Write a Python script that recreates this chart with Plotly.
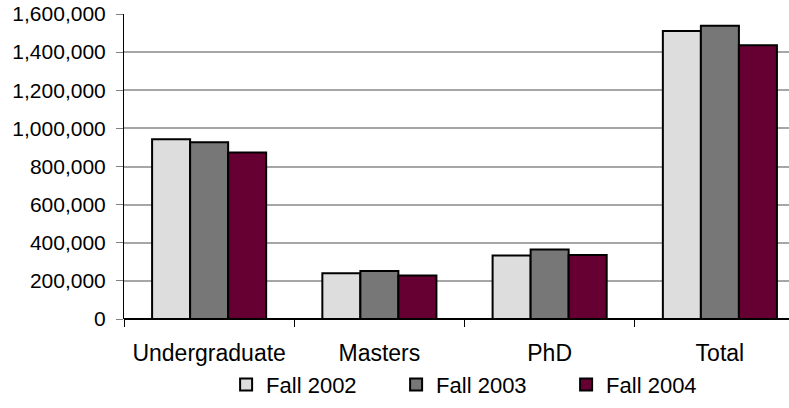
import plotly.graph_objects as go

categories = ['Undergraduate', 'Masters', 'PhD', 'Total']
fall_2002 = [943000, 240000, 333000, 1511000]
fall_2003 = [927000, 252000, 364000, 1539000]
fall_2004 = [873000, 228000, 336000, 1436000]

series = [
    ('Fall 2002', fall_2002, '#DDDDDD'),
    ('Fall 2003', fall_2003, '#777777'),
    ('Fall 2004', fall_2004, '#660033'),
]

fig = go.Figure()
for name, vals, color in series:
    fig.add_trace(go.Bar(
        x=categories, y=vals, name=name,
        marker_color=color,
        marker_line=dict(color='#000000', width=2),
    ))

fig.update_layout(
    width=789, height=408,
    margin=dict(l=124, r=0, t=14, b=89),
    paper_bgcolor='white', plot_bgcolor='white',
    font=dict(family='Arial, Liberation Sans', size=22, color='#000000'),
    barmode='group', bargap=0.33, bargroupgap=0,
    showlegend=True,
    legend=dict(
        orientation='h', x=0.537, xanchor='center', y=-0.215, yanchor='middle',
        font=dict(size=22), entrywidth=125, entrywidthmode='pixels',
        itemwidth=30, tracegroupgap=0,
    ),
    xaxis=dict(
        range=[-0.5, -0.5 + 664 / 170], automargin=False,
        tickson='boundaries', ticks='outside', ticklen=7, tickcolor='#000000',
        showline=False, showgrid=False, ticklabelstandoff=18,
        tickfont=dict(size=23),
    ),
    yaxis=dict(
        range=[0, 1600000], dtick=200000, tickformat=',d', automargin=False,
        showgrid=True, gridcolor='#A6A6A6', gridwidth=1.5,
        showline=True, linecolor='#000000', linewidth=1,
        ticks='outside', ticklen=7, tickcolor='#808080',
        zeroline=True, zerolinecolor='#000000', zerolinewidth=1.5,
        ticklabelstandoff=6, ticklabeloverflow='allow', tickfont=dict(size=21),
    ),
)

# drop the default 8px page margin so the figure fills the window
fig.write_html('out.html', config={'displayModeBar': False},
               post_script="document.body.style.margin='0';")
